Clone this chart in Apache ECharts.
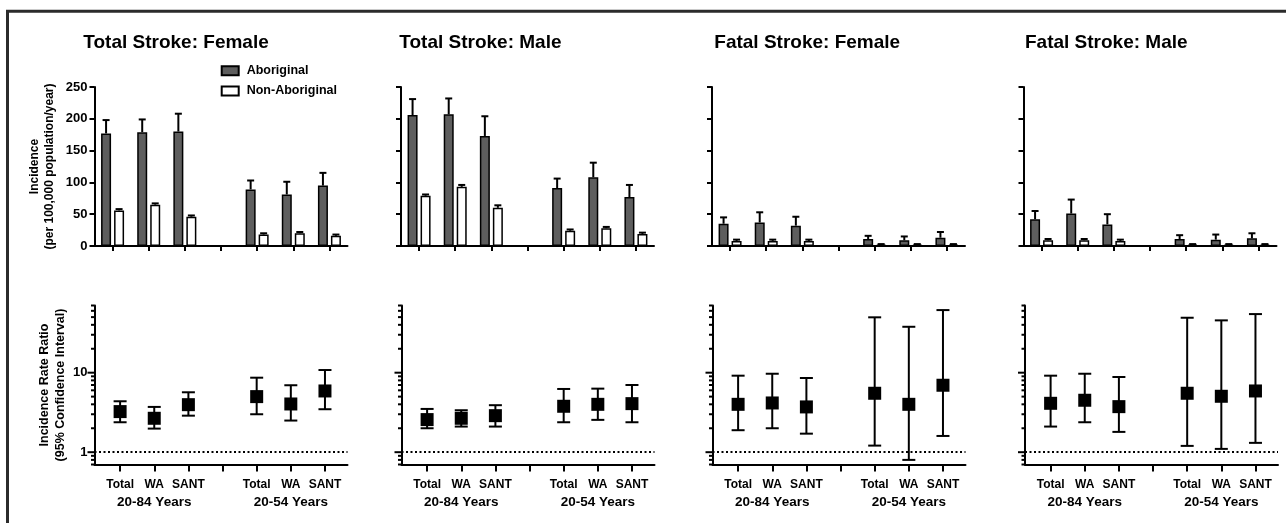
<!DOCTYPE html>
<html><head><meta charset="utf-8">
<script src="https://cdn.jsdelivr.net/npm/echarts@6/dist/echarts.min.js"></script>
<style>html,body{margin:0;padding:0;background:#fff}#c{width:1286px;height:523px}</style>
</head><body><div id="c"></div>
<script>
// ---------- DATA ----------
const categories = ['Total', 'WA', 'SANT', '', 'Total', 'WA', 'SANT'];
const ageGroups = ['20-84 Years', '20-54 Years'];
const ageGroupCenters = [1, 5];
const panelTitles = ['Total Stroke: Female', 'Total Stroke: Male', 'Fatal Stroke: Female', 'Fatal Stroke: Male'];
const legendNames = ['Aboriginal', 'Non-Aboriginal'];
const incidenceMax = 250;
const incidenceStep = 50;
const irrMin = 0.7;
const irrMax = 70;
const irrMajorTicks = [1, 10];
const irrMinorTicks = [0.7, 0.8, 0.9, 2, 3, 4, 5, 6, 7, 8, 9, 20, 30, 40, 50, 60, 70];
const irrReference = 1;

// Incidence per 100,000 population/year (bar value, upper error)
const totFemAbor   = [177, 179, 180, null, 89, 81, 95];
const totFemAborUp = [198, 199, 208, null, 103, 101, 115];
const totFemNon    = [56, 65, 46, null, 18, 20, 16];
const totFemNonUp  = [58, 67, 48, null, 20, 22, 18];

const totMalAbor   = [206, 207, 173, null, 91, 108, 77];
const totMalAborUp = [231, 232, 204, null, 106, 131, 96];
const totMalNon    = [79, 93, 60, null, 24, 28, 19];
const totMalNonUp  = [81, 96, 64, null, 26, 30, 21];

const fatFemAbor   = [35, 37, 32, null, 11, 9, 13];
const fatFemAborUp = [45, 53, 46, null, 16, 15, 22];
const fatFemNon    = [8, 8, 8, null, 2, 2, 2];
const fatFemNonUp  = [10, 10, 10, null, 3, 3, 3];

const fatMalAbor   = [42, 51, 34, null, 11, 10, 12];
const fatMalAborUp = [55, 73, 50, null, 17, 18, 20];
const fatMalNon    = [9, 9, 8, null, 2, 2, 2];
const fatMalNonUp  = [11, 11, 10, null, 3, 3, 3];

// Incidence rate ratio (estimate, lower 95% CI, upper 95% CI)
const totFemIRR   = [3.24, 2.67, 3.96, null, 5.0, 4.04, 5.89];
const totFemIRRLo = [2.38, 1.98, 2.88, null, 3.0, 2.5, 3.47];
const totFemIRRHi = [4.37, 3.71, 5.67, null, 8.65, 6.95, 10.8];

const totMalIRR   = [2.57, 2.67, 2.88, null, 3.78, 4.0, 4.08];
const totMalIRRLo = [2.0, 2.1, 2.1, null, 2.38, 2.55, 2.38];
const totMalIRRHi = [3.5, 3.37, 3.9, null, 6.24, 6.3, 7.0];

const fatFemIRR   = [4.0, 4.16, 3.71, null, 5.51, 4.0, 6.95];
const fatFemIRRLo = [1.89, 2.0, 1.71, null, 1.21, 0.80, 1.6];
const fatFemIRRHi = [9.17, 9.7, 8.57, null, 49.7, 37.8, 61.3];

const fatMalIRR   = [4.12, 4.5, 3.74, null, 5.51, 5.05, 5.89];
const fatMalIRRLo = [2.1, 2.38, 1.8, null, 1.2, 1.1, 1.31];
const fatMalIRRHi = [9.17, 9.7, 8.83, null, 49.1, 45.5, 54.6];

// ---------- LAYOUT / STYLE ----------
const FONT = "'Liberation Sans', Arial, Helvetica, sans-serif";
const topLeft = [94.5, 401, 712, 1023.5];
const botLeft = [94.5, 401.5, 712.5, 1025];
const panelW = 253;
const titleX = [83.3, 399.3, 714.3, 1025];
const DARK = '#5e5e5e';
const X_MIN = -0.75, X_MAX = 6.66;

const panels = [
  {abor: totFemAbor, aborUp: totFemAborUp, non: totFemNon, nonUp: totFemNonUp, irr: totFemIRR, lo: totFemIRRLo, hi: totFemIRRHi},
  {abor: totMalAbor, aborUp: totMalAborUp, non: totMalNon, nonUp: totMalNonUp, irr: totMalIRR, lo: totMalIRRLo, hi: totMalIRRHi},
  {abor: fatFemAbor, aborUp: fatFemAborUp, non: fatFemNon, nonUp: fatFemNonUp, irr: fatFemIRR, lo: fatFemIRRLo, hi: fatFemIRRHi},
  {abor: fatMalAbor, aborUp: fatMalAborUp, non: fatMalNon, nonUp: fatMalNonUp, irr: fatMalIRR, lo: fatMalIRRLo, hi: fatMalIRRHi}
];

const axisLineStyle = {color: '#000', width: 2};

function errTop(offset) {
  return function (params, api) {
    const i = api.value(0), v = api.value(1), u = api.value(2);
    const p0 = api.coord([i, v]), p1 = api.coord([i, u]);
    const x = p0[0] + offset, hw = 3.5;
    return {type: 'group', children: [
      {type: 'line', shape: {x1: x, y1: p0[1], x2: x, y2: p1[1]}, style: {stroke: '#000', lineWidth: 2}},
      {type: 'line', shape: {x1: x - hw, y1: p1[1], x2: x + hw, y2: p1[1]}, style: {stroke: '#000', lineWidth: 2}}
    ]};
  };
}
function errCI(params, api) {
  const i = api.value(0), lo = api.value(1), hi = api.value(2);
  const p0 = api.coord([i, lo]), p1 = api.coord([i, hi]);
  const x = p0[0], hw = 6.5;
  return {type: 'group', children: [
    {type: 'line', shape: {x1: x, y1: p0[1], x2: x, y2: p1[1]}, style: {stroke: '#000', lineWidth: 2}},
    {type: 'line', shape: {x1: x - hw, y1: p0[1], x2: x + hw, y2: p0[1]}, style: {stroke: '#000', lineWidth: 2}},
    {type: 'line', shape: {x1: x - hw, y1: p1[1], x2: x + hw, y2: p1[1]}, style: {stroke: '#000', lineWidth: 2}}
  ]};
}
function logTicks(params, api) {
  const v = api.value(1), major = api.value(2);
  const y = api.coord([0, v])[1];
  const x = params.coordSys.x;
  const len = major ? 7 : 3.5;
  return {type: 'line', shape: {x1: x - len, y1: y, x2: x, y2: y}, style: {stroke: '#000', lineWidth: 2}};
}

const grid = [], xAxis = [], yAxis = [], series = [];
const tickData = irrMajorTicks.map(v => [0, v, 1]).concat(irrMinorTicks.map(v => [0, v, 0]));
const labelStyle = {fontWeight: 'bold', fontFamily: FONT, color: '#000'};

panels.forEach((P, p) => {
  const gt = 2 * p, gb = 2 * p + 1;
  grid.push({left: topLeft[p], top: 87, width: panelW, height: 159, outerBoundsMode: 'none', containLabel: false});
  grid.push({left: botLeft[p], top: 305.5, width: panelW, height: 159, outerBoundsMode: 'none', containLabel: false});

  // xAxis index 3p: top category; 3p+1: bottom value; 3p+2: bottom group labels
  xAxis.push({
    type: 'category', gridIndex: gt, data: categories, boundaryGap: true,
    axisLine: {show: true, onZero: false, lineStyle: axisLineStyle},
    axisTick: {show: true, alignWithLabel: true, interval: 0, length: 5, lineStyle: {color: '#000', width: 2}},
    axisLabel: {show: false}, splitLine: {show: false}
  });
  xAxis.push({
    type: 'value', gridIndex: gb, min: X_MIN, max: X_MAX,
    axisLine: {show: true, onZero: false, lineStyle: axisLineStyle},
    axisTick: {show: true, length: 7, customValues: [0, 1, 2, 3, 4, 5, 6], lineStyle: {color: '#000', width: 2}},
    axisLabel: Object.assign({
      show: true, margin: 13.5, customValues: [0, 1, 2, 4, 5, 6],
      showMinLabel: true, showMaxLabel: true, hideOverlap: false,
      fontSize: 12, lineHeight: 14,
      formatter: v => categories[Math.round(v)]
    }, labelStyle),
    splitLine: {show: false}
  });
  xAxis.push({
    type: 'value', gridIndex: gb, min: X_MIN, max: X_MAX, position: 'bottom',
    axisLine: {show: false, onZero: false}, axisTick: {show: false}, splitLine: {show: false},
    axisLabel: Object.assign({
      show: true, margin: 30, customValues: ageGroupCenters,
      showMinLabel: true, showMaxLabel: true, hideOverlap: false,
      fontSize: 13.5, lineHeight: 16,
      formatter: v => ageGroups[ageGroupCenters.indexOf(Math.round(v))]
    }, labelStyle)
  });

  yAxis.push({
    type: 'value', gridIndex: gt, min: 0, max: incidenceMax, interval: incidenceStep,
    axisLine: {show: true, onZero: false, lineStyle: axisLineStyle},
    axisTick: {show: true, length: 5, lineStyle: {color: '#000', width: 2}},
    axisLabel: Object.assign({show: p === 0, fontSize: 13, margin: 7}, labelStyle),
    splitLine: {show: false},
    name: p === 0 ? 'Incidence\n(per 100,000 population/year)' : '',
    nameLocation: 'middle', nameRotate: 90, nameGap: 37,
    nameTextStyle: Object.assign({fontSize: 12, lineHeight: 15}, labelStyle)
  });
  yAxis.push({
    type: 'log', logBase: 10, gridIndex: gb, min: irrMin, max: irrMax,
    axisLine: {show: true, onZero: false, lineStyle: axisLineStyle},
    axisTick: {show: false}, minorTick: {show: false},
    axisLabel: Object.assign({
      show: p === 0, fontSize: 13, margin: 7,
      formatter: function (v) {
        for (const m of irrMajorTicks) if (Math.abs(v - m) < 1e-6 * m) return String(m);
        return '';
      }
    }, labelStyle),
    splitLine: {show: false},
    name: p === 0 ? 'Incidence Rate Ratio\n(95% Confidence Interval)' : '',
    nameLocation: 'middle', nameRotate: 90, nameGap: 26.5,
    nameTextStyle: Object.assign({fontSize: 12.5, lineHeight: 15.7}, labelStyle)
  });

  const xt = 3 * p, xb = 3 * p + 1;
  const errData = (vals, ups) => vals.map((v, i) => v == null ? null : [i, v, ups[i]]).filter(Boolean);

  series.push({
    name: legendNames[0], type: 'bar', xAxisIndex: xt, yAxisIndex: gt, data: P.abor,
    barWidth: 10, barGap: '30%', silent: true,
    itemStyle: {color: DARK, borderColor: '#000', borderWidth: 1.5}
  });
  series.push({
    name: legendNames[1], type: 'bar', xAxisIndex: xt, yAxisIndex: gt, data: P.non,
    barWidth: 10, barGap: '30%', silent: true,
    itemStyle: {color: '#fff', borderColor: '#000', borderWidth: 1.5}
  });
  series.push({
    type: 'custom', xAxisIndex: xt, yAxisIndex: gt, clip: false, silent: true, z: 3,
    data: errData(P.abor, P.aborUp), encode: {x: 0, y: [1, 2]}, renderItem: errTop(-6.5)
  });
  series.push({
    type: 'custom', xAxisIndex: xt, yAxisIndex: gt, clip: false, silent: true, z: 3,
    data: errData(P.non, P.nonUp), encode: {x: 0, y: [1, 2]}, renderItem: errTop(6.5)
  });

  series.push({
    type: 'scatter', xAxisIndex: xb, yAxisIndex: gb, silent: true, z: 4,
    data: P.irr.map((v, i) => v == null ? null : [i, v]).filter(Boolean),
    symbol: 'rect', symbolSize: 13, itemStyle: {color: '#000', opacity: 1},
    markLine: {
      silent: true, symbol: ['none', 'none'], label: {show: false}, animation: false,
      lineStyle: {color: '#000', width: 2, type: [2, 2.5]},
      emphasis: {disabled: true},
      data: [{yAxis: irrReference}]
    }
  });
  series.push({
    type: 'custom', xAxisIndex: xb, yAxisIndex: gb, clip: false, silent: true, z: 3,
    data: P.lo.map((v, i) => v == null ? null : [i, v, P.hi[i]]).filter(Boolean),
    encode: {x: 0, y: [1, 2]}, renderItem: errCI
  });
  series.push({
    type: 'custom', xAxisIndex: xb, yAxisIndex: gb, clip: false, silent: true, z: 3,
    data: tickData, encode: {x: 0, y: 1}, renderItem: logTicks
  });
});

const graphic = [
  {type: 'rect', shape: {x: 7.5, y: 11.3, width: 1400, height: 700}, style: {fill: 'none', stroke: '#2b2b2b', lineWidth: 3}, silent: true}
].concat(panelTitles.map((t, i) => ({
  type: 'text', x: titleX[i], y: 42.7, silent: true,
  style: {text: t, fontSize: 19, fontWeight: 'bold', fontFamily: FONT, fill: '#000', verticalAlign: 'middle', textVerticalAlign: 'middle'}
})));

const chart = echarts.init(document.getElementById('c'), null, {renderer: 'canvas'});
chart.setOption({
  animation: false,
  backgroundColor: '#fff',
  grid, xAxis, yAxis, series, graphic,
  legend: {
    data: legendNames, orient: 'vertical', left: 220.7, top: 63.2, padding: 0,
    itemWidth: 17, itemHeight: 9, itemGap: 5.3, selectedMode: false,
    icon: 'rect',
    textStyle: {fontSize: 12.5, fontWeight: 'bold', fontFamily: FONT, color: '#000', lineHeight: 15, padding: [0, 0, 0, 3]}
  }
});
</script>
</body></html>
